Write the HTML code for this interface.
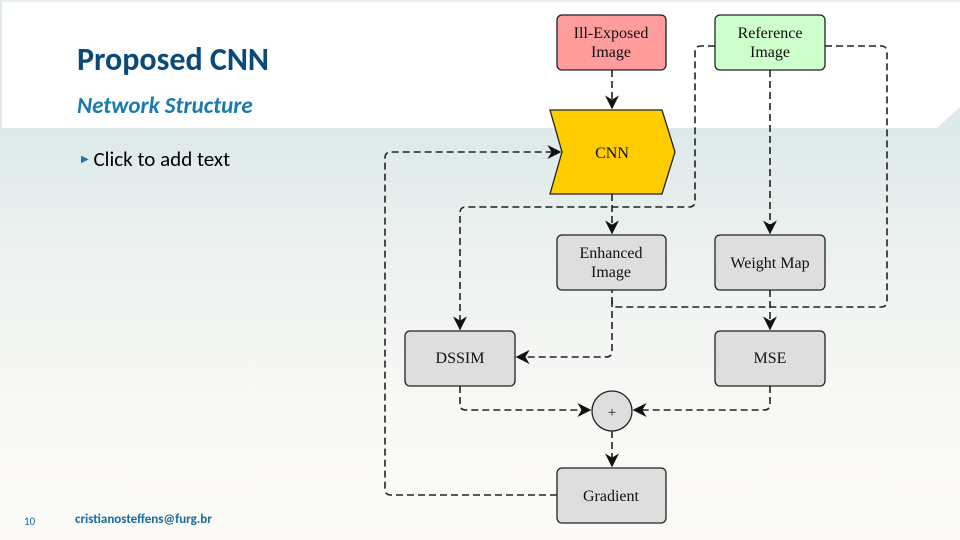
<!DOCTYPE html>
<html><head><meta charset="utf-8"><style>
html,body{margin:0;padding:0;}
body{width:960px;height:540px;position:relative;overflow:hidden;font-family:"Liberation Sans",sans-serif;}
.bg{position:absolute;left:0;top:0;width:960px;height:540px;background:linear-gradient(#dde9ea 128px,#edf2f0 260px,#f8f8f5 400px,#fbfaf6 540px);}
.t{position:absolute;font-family:"Carlito","Liberation Sans",sans-serif;}
</style></head><body>
<div class="bg"></div>
<svg width="960" height="540" style="position:absolute;left:0;top:0">
<path d="M2 2 H960 V107 L937 128 H2 Z" fill="#ffffff"/>
<rect x="0" y="0" width="960" height="2" fill="#e6eeee"/>
<defs>
<marker id="b" viewBox="0 0 10 10" refX="9" refY="5" markerWidth="14" markerHeight="14" markerUnits="userSpaceOnUse" orient="auto"><path d="M0 0 L10 5 L0 10 L3 5 Z" fill="#111"/></marker></defs>
<g fill="none" stroke="#222" stroke-width="1.6" stroke-dasharray="7,4">
<path d="M612 70 V108" marker-end="url(#b)"/>
<path d="M612 194 V233" marker-end="url(#b)"/>
<path d="M770 70 V233" marker-end="url(#b)"/>
<path d="M715 46 H701 Q695 46 695 52 V201 Q695 207 689 207 H466 Q460 207 460 213 V329" marker-end="url(#b)"/>
<path d="M825 46 H881 Q887 46 887 52 V301 Q887 307 881 307 H618 Q612 307 612 301 V290"/>
<path d="M770 290 V329" marker-end="url(#b)"/>
<path d="M612 300 V351 Q612 357 606 357 H517" marker-end="url(#b)"/>
<path d="M460 386 V404 Q460 410 466 410 H590" marker-end="url(#b)"/>
<path d="M770 386 V404 Q770 410 764 410 H634" marker-end="url(#b)"/>
<path d="M612 431 V466" marker-end="url(#b)"/>
<path d="M557 495 H391 Q385 495 385 489 V158 Q385 152 391 152 H560" marker-end="url(#b)"/>
</g>
<g stroke="#222" stroke-width="1.3" font-family="Liberation Serif,serif" font-size="16" text-anchor="middle">
<rect x="557" y="15" width="109" height="55" rx="5" fill="#ff9d9d"/>
<rect x="715" y="15" width="110" height="55" rx="5" fill="#ccffcc"/>
<path d="M550 110 H662 L675 152 L662 194 H550 L562 152 Z" fill="#ffcc00"/>
<rect x="557" y="235" width="109" height="55" rx="5" fill="#dedede"/>
<rect x="715" y="235" width="110" height="55" rx="5" fill="#dedede"/>
<rect x="405" y="331" width="110" height="55" rx="5" fill="#dedede"/>
<rect x="715" y="331" width="110" height="55" rx="5" fill="#dedede"/>
<circle cx="612" cy="411" r="20" fill="#dedede"/>
<rect x="557" y="468" width="109" height="55" rx="5" fill="#dedede"/>
<g stroke="none" fill="#111">
<text x="611" y="38">Ill-Exposed</text><text x="611" y="57">Image</text>
<text x="770" y="38">Reference</text><text x="770" y="57">Image</text>
<text x="612" y="158">CNN</text>
<text x="611" y="258">Enhanced</text><text x="611" y="277">Image</text>
<text x="770" y="268">Weight Map</text>
<text x="460" y="363">DSSIM</text>
<text x="770" y="363">MSE</text>
<text x="612" y="417" font-size="15">+</text>
<text x="611" y="501">Gradient</text>
</g></g>
</svg>
<div class="t" style="left:77px;top:40px;font-size:32px;font-weight:bold;color:#0a4a7a;">Proposed CNN</div>
<div class="t" style="left:77px;top:92px;font-size:23px;font-weight:bold;font-style:italic;color:#1a7ab0;">Network Structure</div>
<div class="t" style="left:81px;top:146px;font-size:21px;color:#000;"><span style="color:#1a7ab0;font-size:10px;vertical-align:4px">&#9654;</span> Click to add text</div>
<div class="t" style="left:24px;top:515px;font-size:11px;color:#1a6a9a;">10</div>
<div class="t" style="left:75px;top:512px;font-size:13px;font-weight:bold;color:#1a6a9a;">cristianosteffens@furg.br</div>
</body></html>
